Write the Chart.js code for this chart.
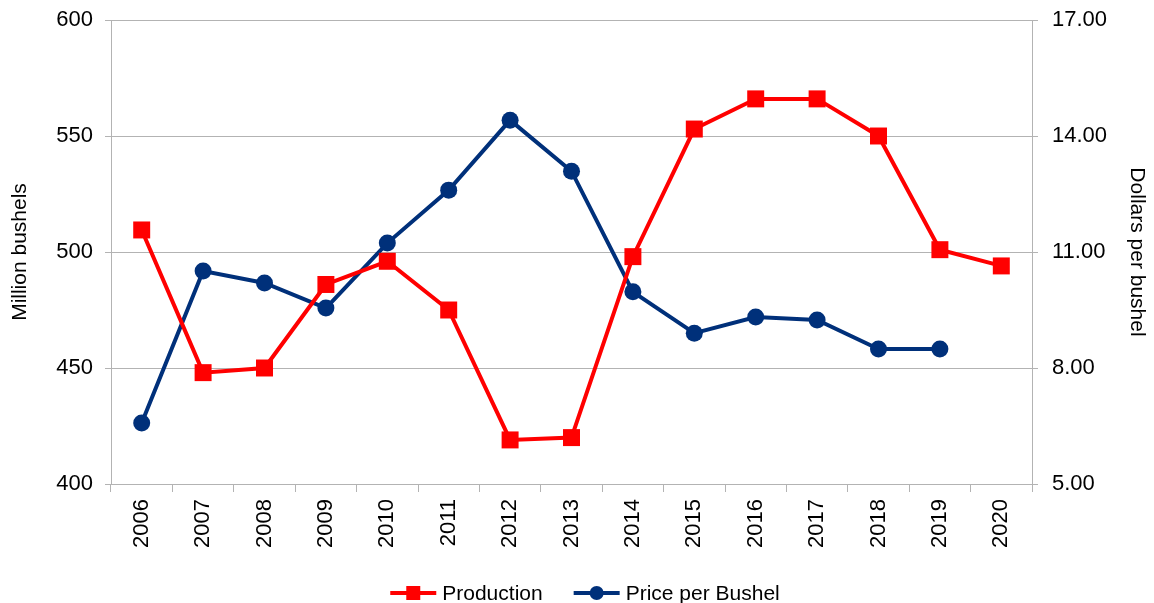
<!DOCTYPE html>
<html>
<head>
<meta charset="utf-8">
<script src="https://cdn.jsdelivr.net/npm/chart.js@4/dist/chart.umd.min.js"></script>
<style>
  html, body { margin: 0; padding: 0; background: #fff; }
  #wrap { width: 1154px; height: 603px; }
</style>
</head>
<body>
<div id="wrap"><canvas id="lineChart" width="1154" height="603"></canvas></div>
<script>
const years = ["2006", "2007", "2008", "2009", "2010", "2011", "2012", "2013", "2014", "2015", "2016", "2017", "2018", "2019", "2020"];
const production = [509.5, 448, 450, 486, 496, 475, 419, 420, 498, 553, 566, 566, 550, 501, 494];
const price = [6.58, 10.51, 10.2, 9.55, 11.23, 12.6, 14.41, 13.09, 9.97, 8.9, 9.32, 9.24, 8.49, 8.49, null];
const leftTicks = [400, 450, 500, 550, 600];
const rightTicks = [5, 8, 11, 14, 17];

const RED = "#ff0000";
const BLUE = "#00307a";
const GRID = "#b3b3b3";
const FONT = "'Liberation Sans', Arial, sans-serif";

// legend at the bottom: line sample with marker, then label
const bottomLegend = {
  id: "bottomLegend",
  afterDraw(chart) {
    const g = chart.ctx;
    const y = 593;
    g.save();
    g.font = "21px " + FONT;
    g.textBaseline = "middle";
    const items = chart.data.datasets.map(ds => ({ ds, w: g.measureText(ds.label).width }));
    const total = items.reduce((s, it) => s + 46 + 6 + it.w, 0) + 31 * (items.length - 1);
    let x = 585 - total / 2;
    items.forEach(({ ds, w }) => {
      g.strokeStyle = ds.borderColor;
      g.fillStyle = ds.borderColor;
      g.lineWidth = 4;
      g.beginPath(); g.moveTo(x, y); g.lineTo(x + 46, y); g.stroke();
      g.beginPath();
      if (ds.pointStyle === "rect") g.rect(x + 16, y - 7, 14, 14);
      else g.arc(x + 23, y, 7, 0, Math.PI * 2);
      g.fill();
      g.fillStyle = "#000";
      g.fillText(ds.label, x + 52, y + 1);
      x += 46 + 6 + w + 31;
    });
    g.restore();
  }
};

// fixed axis widths, and no extra label padding pushing the plot down
function fixWidth(w) {
  return s => { s.width = w; s.paddingTop = 0; s.paddingBottom = 0; };
}

const ctx = document.getElementById("lineChart");

new Chart(ctx, {
  type: "line",
  data: {
    labels: years,
    datasets: [{
      label: "Production",
      data: production,
      yAxisID: "y",
      borderColor: RED,
      backgroundColor: RED,
      borderWidth: 4,
      pointStyle: "rect",
      pointRadius: 12,
      pointBorderWidth: 0,
      tension: 0
    }, {
      label: "Price per Bushel",
      data: price,
      yAxisID: "y1",
      borderColor: BLUE,
      backgroundColor: BLUE,
      borderWidth: 4,
      pointStyle: "circle",
      pointRadius: 8.5,
      pointBorderWidth: 0,
      tension: 0
    }]
  },
  options: {
    responsive: false,
    animation: false,
    layout: { padding: { top: 20, left: 0, right: 0, bottom: 49 } },
    plugins: {
      tooltip: { enabled: false },
      legend: { display: false }
    },
    scales: {
      x: {
        offset: true,
        afterFit(s) { s.height = 70; },
        grid: { offset: true, drawOnChartArea: false, tickLength: 8, color: GRID },
        border: { color: GRID },
        ticks: { minRotation: 90, maxRotation: 90, color: "#000", padding: 7, font: { family: FONT, size: 22 } }
      },
      y: {
        position: "left",
        min: 400,
        max: 600,
        afterFit: fixWidth(111),
        afterBuildTicks(s) { s.ticks = leftTicks.map(v => ({ value: v })); },
        grid: { color: GRID, tickLength: 6 },
        border: { color: GRID },
        ticks: { color: "#000", padding: 12, font: { family: FONT, size: 22 } },
        title: { display: true, text: "Million bushels", color: "#000", font: { family: FONT, size: 21 }, padding: { top: 8, bottom: 0 } }
      },
      y1: {
        position: "right",
        min: 5,
        max: 17,
        afterFit: fixWidth(122),
        afterBuildTicks(s) { s.ticks = rightTicks.map(v => ({ value: v })); },
        grid: { drawOnChartArea: false, color: GRID, tickLength: 6 },
        border: { color: GRID },
        ticks: { color: "#000", padding: 14, font: { family: FONT, size: 22 }, callback: v => v.toFixed(2) },
        title: { display: true, text: "Dollars per bushel", color: "#000", font: { family: FONT, size: 21 }, padding: { top: 5, bottom: 0 } }
      }
    }
  },
  plugins: [bottomLegend]
});
</script>
</body>
</html>
